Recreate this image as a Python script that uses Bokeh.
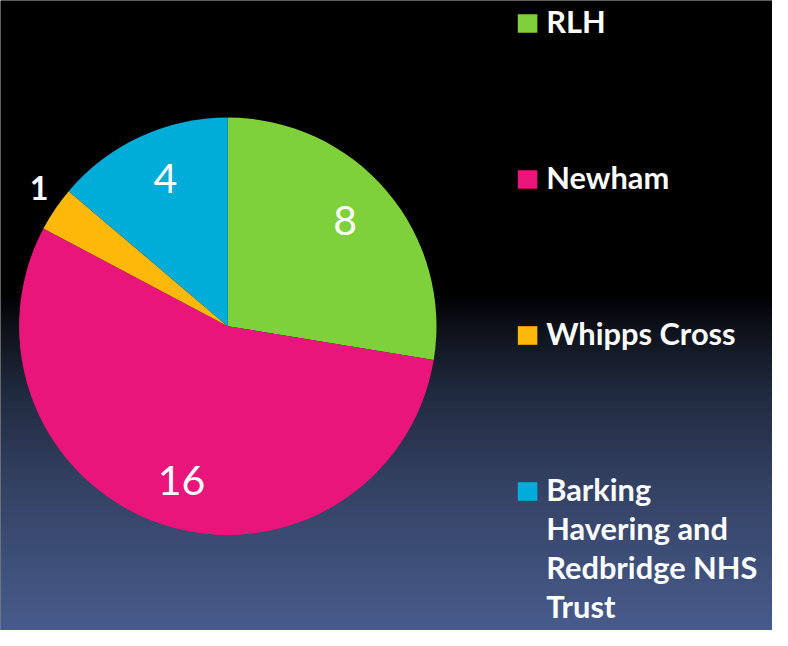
import numpy as np
from bokeh.plotting import figure
from bokeh.models import ColumnDataSource, Range1d
from bokeh.core.properties import value
from bokeh.embed import file_html
from bokeh.resources import INLINE

# ---- data ----
categories = ["RLH", "Newham", "Whipps Cross", "Barking Havering and Redbridge NHS Trust"]
legend_lines = [["RLH"], ["Newham"], ["Whipps Cross"], ["Barking", "Havering and", "Redbridge NHS", "Trust"]]
values = [8, 16, 1, 4]
colors = ["#7fd13b", "#ea157a", "#feb80a", "#00add8"]

W, H = 772, 630
REF_W, REF_H = 788, 646
SX, SY = W / REF_W, H / REF_H
S = (SX + SY) / 2


def fx(x):
    return x * SX


def fy(y):
    return H - y * SY


p = figure(width=W, height=H, output_backend="svg", toolbar_location=None,
           x_range=Range1d(0, W), y_range=Range1d(0, H), min_border=0)
p.axis.visible = False
p.grid.visible = False
p.outline_line_color = None
p.background_fill_color = "#000000"
p.border_fill_color = "#000000"

# ---- background gradient ----
stops_y = [0, 300, 330, 400, 500, 646]
stops_c = [(0, 0, 0), (0, 0, 0), (12, 15, 22), (32, 42, 62), (52, 66, 100), (72, 92, 140)]
rows = np.arange(H)
ref_y = (H - rows - 0.5) / SY
img = np.zeros((H, 1), dtype=np.uint32)
view = img.view(dtype=np.uint8).reshape((H, 1, 4))
for ch in range(3):
    view[:, 0, ch] = np.interp(ref_y, stops_y, [c[ch] for c in stops_c]).astype(np.uint8)
view[:, 0, 3] = 255
p.image_rgba(image=[img], x=0, y=0, dw=W, dh=H)

# ---- pie ----
cx, cy, R = fx(232), fy(334), 213.5 * S
total = float(sum(values))
cum = np.concatenate([[0], np.cumsum(values)])
starts = np.pi / 2 - cum[:-1] / total * 2 * np.pi
ends = np.pi / 2 - cum[1:] / total * 2 * np.pi
src = ColumnDataSource(dict(start=starts, end=ends, color=colors, cat=categories))
p.wedge(x=cx, y=cy, radius=R, start_angle="start", end_angle="end", direction="clock",
        fill_color="color", line_color=None, source=src)

# ---- data labels ----
mids = (starts + ends) / 2
ins_x, ins_y, ins_t, out_x, out_y, out_t = [], [], [], [], [], []
for v, m in zip(values, mids):
    if v / total > 0.05:
        r = 0.77 * R
        ins_x.append(cx + r * np.cos(m) - 5 * np.sign(np.cos(m)))
        ins_y.append(cy + r * np.sin(m) + 2 * np.sign(np.sin(m)))
        ins_t.append(str(v))
    else:
        r = 1.11 * R
        out_x.append(cx + r * np.cos(m) + 3); out_y.append(cy + r * np.sin(m) + 8); out_t.append(str(v))
p.text(x=ins_x, y=ins_y, text=ins_t, text_color="white", text_font=value("Lato"),
       text_font_size=f"{42 * S:.1f}px", text_align="center", text_baseline="middle")
p.text(x=out_x, y=out_y, text=out_t, text_color="white", text_font=value("Lato"),
       text_font_size=f"{33 * S:.1f}px", text_font_style="bold", text_align="center",
       text_baseline="middle")

# ---- legend ----
item_gap = 160
line_gap = 40
sq_x, sq_y = [], []
lx, ly, lt = [], [], []
for i, lines in enumerate(legend_lines):
    yc = 23.5 + item_gap * i
    sq_x.append(fx(538)); sq_y.append(fy(yc))
    for k, ln in enumerate(lines):
        lx.append(fx(557)); ly.append(fy(yc - 2 + k * line_gap)); lt.append(ln)
p.rect(x=sq_x, y=sq_y, width=20 * S, height=19 * S, fill_color=colors, line_color=None)
p.text(x=lx, y=ly, text=lt, text_color="white", text_font=value("Lato"),
       text_font_size=f"{31.5 * S:.1f}px", text_font_style="bold", text_align="left",
       text_baseline="alphabetic")

open("out.html", "w").write(file_html(p, INLINE))
